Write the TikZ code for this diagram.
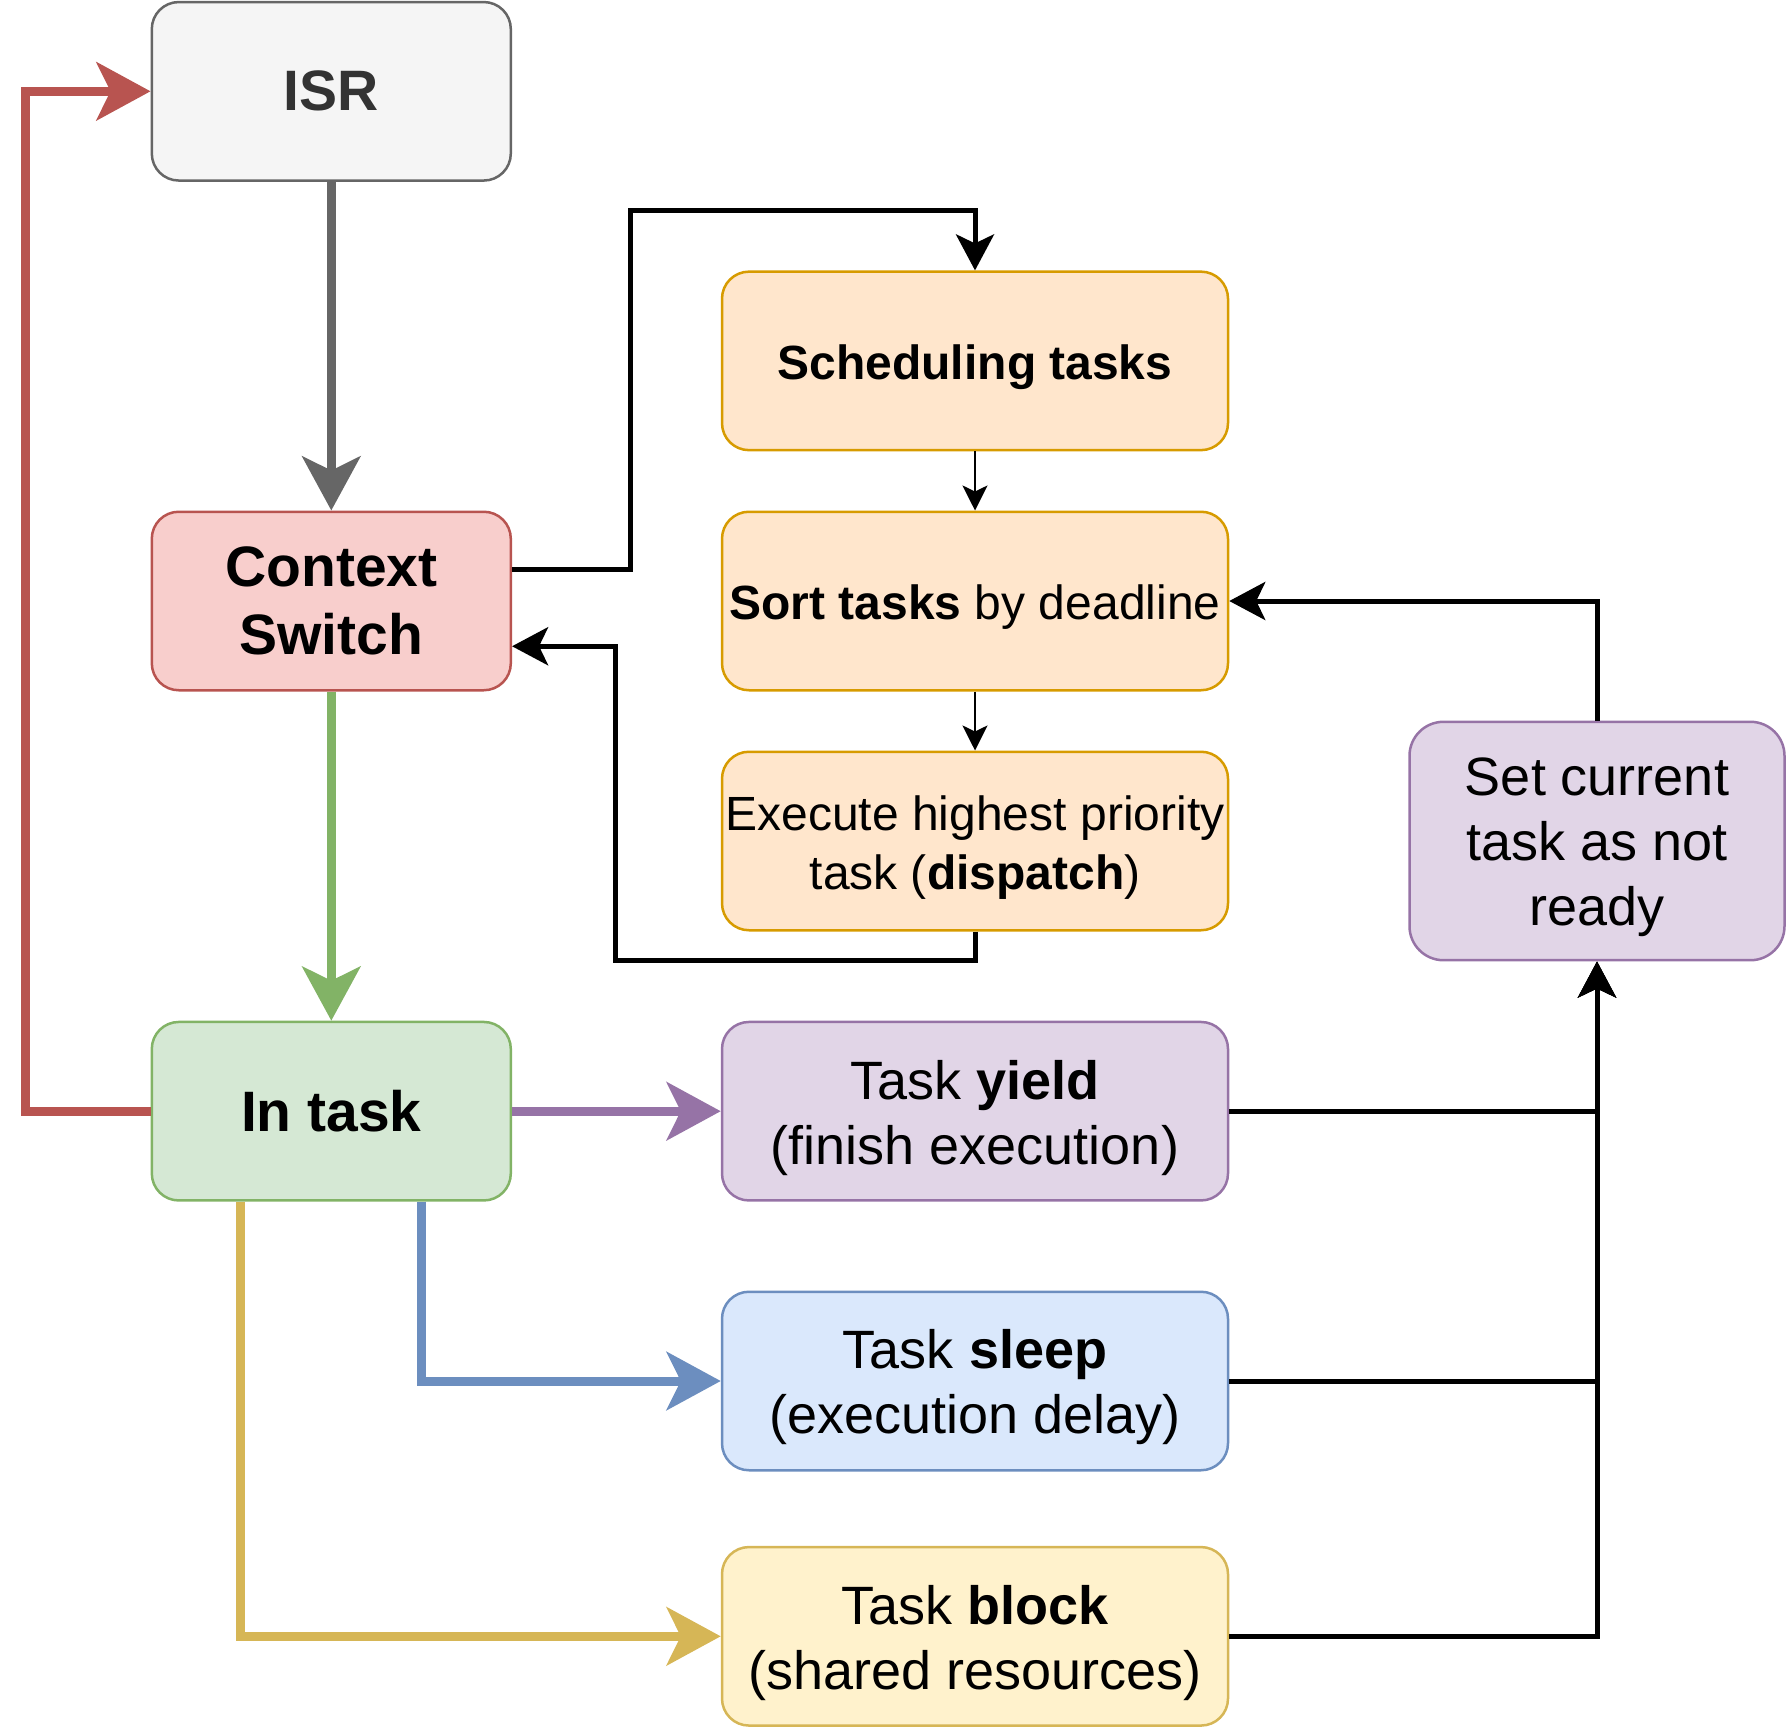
\documentclass[tikz,border=0pt]{standalone}
\usepackage{fontspec}
\setmainfont{Liberation Sans}
\usetikzlibrary{arrows.meta,calc}
\definecolor{isrfill}{HTML}{F5F5F5}
\definecolor{isrdraw}{HTML}{666666}
\definecolor{isrtext}{HTML}{333333}
\definecolor{redfill}{HTML}{F8CECC}
\definecolor{reddraw}{HTML}{B85450}
\definecolor{greenfill}{HTML}{D5E8D4}
\definecolor{greendraw}{HTML}{82B366}
\definecolor{orangefill}{HTML}{FFE6CC}
\definecolor{orangedraw}{HTML}{D79B00}
\definecolor{purplefill}{HTML}{E1D5E7}
\definecolor{purpledraw}{HTML}{9673A6}
\definecolor{bluefill}{HTML}{DAE8FC}
\definecolor{bluedraw}{HTML}{6C8EBF}
\definecolor{yellowfill}{HTML}{FFF2CC}
\definecolor{yellowdraw}{HTML}{D6B656}
\tikzset{
  box/.style={rectangle, rounded corners=27pt, line width=2.5pt, inner sep=0pt, align=center},
  smallbox/.style={box, minimum width=359pt, minimum height=178.5pt},
  widebox/.style={box, minimum width=506pt, minimum height=178.5pt},
  boxtext/.style={inner sep=0pt, align=center},
  headfont/.style={font=\fontsize{57}{68}\selectfont\bfseries},
  midfont/.style={boxtext, font=\fontsize{48}{59}\selectfont},
  bigfont/.style={boxtext, font=\fontsize{54}{65}\selectfont},
  thickarrow/.style={line width=9pt, -{Stealth[length=54pt, width=58pt, inset=14pt]}},
  blackarrow/.style={line width=5pt, black, -{Stealth[length=36pt, width=38pt, inset=9pt]}},
  thinarrow/.style={line width=2.5pt, black, -{Stealth[length=25pt, width=25pt, inset=6pt]}}
}
\begin{document}
\begin{tikzpicture}[x=1pt,y=-1pt]
\useasboundingbox (0,0) rectangle (1788,1728);
% boxes
\node[smallbox, headfont, fill=isrfill, draw=isrdraw, text=isrtext] (isr) at (331.3,91.3) {ISR};
\node[smallbox, headfont, fill=redfill, draw=reddraw] (cs) at (331.3,601) {Context\\Switch};
\node[smallbox, headfont, fill=greenfill, draw=greendraw] (intask) at (331.3,1111.2) {In task};
\node[widebox, fill=orangefill, draw=orangedraw] (sched) at (975,360.9) {};
\node[widebox, fill=orangefill, draw=orangedraw] (sort) at (975,601) {};
\node[widebox, fill=orangefill, draw=orangedraw] (exec) at (975,841) {};
\node[widebox, fill=purplefill, draw=purpledraw] (yield) at (975,1111.2) {};
\node[widebox, fill=bluefill, draw=bluedraw] (sleep) at (975,1381) {};
\node[widebox, fill=yellowfill, draw=yellowdraw] (block) at (975,1636.3) {};
\node[box, rounded corners=34pt, minimum width=375pt, minimum height=238.4pt, fill=purplefill, draw=purpledraw] (set) at (1597,841) {};
% box texts
\node[midfont] (schedtext) at ($(sched.center)+(0,6.5)$) {\textbf{Scheduling tasks}};
\node[midfont] (sorttext) at ($(sort.center)+(0,6.5)$) {\textbf{Sort tasks} by deadline};
\node[midfont] (exectext) at ($(exec.center)+(0,6.5)$) {Execute highest priority\\task (\textbf{dispatch})};
\node[bigfont] (yieldtext) at ($(yield.center)+(0,6.5)$) {Task \textbf{yield}\\(finish execution)};
\node[bigfont] (sleeptext) at ($(sleep.center)+(0,6.5)$) {Task \textbf{sleep}\\(execution delay)};
\node[bigfont] (blocktext) at ($(block.center)+(0,6.5)$) {Task \textbf{block}\\(shared resources)};
\node[bigfont] (settext) at ($(set.center)+(0,6.5)$) {Set current\\task as not\\ready};
% route coordinates
\coordinate (redx) at (25,0);
\coordinate (r1) at (630.6,211);
\coordinate (r2) at (615.8,960);
% colored connectors
\draw[thickarrow, draw=isrdraw] (isr.south) -- (cs.north);
\draw[thickarrow, draw=greendraw] (cs.south) -- (intask.north);
\draw[thickarrow, draw=reddraw] (intask.west) -- (intask.west -| redx) |- (isr.west);
\draw[thickarrow, draw=purpledraw] (intask.east) -- (yield.west);
\draw[thickarrow, draw=bluedraw] ($(intask.south west)!0.75!(intask.south east)$) |- (sleep.west);
\draw[thickarrow, draw=yellowdraw] ($(intask.south west)!0.25!(intask.south east)$) |- (block.west);
% black connectors
\draw[blackarrow] ($(cs.north east)!0.325!(cs.south east)$) -| (r1) -| (sched.north);
\draw[thinarrow] (sched.south) -- (sort.north);
\draw[thinarrow] (sort.south) -- (exec.north);
\draw[blackarrow] (exec.south) |- (r2) |- ($(cs.north east)!0.75!(cs.south east)$);
\draw[blackarrow] (set.north) |- (sort.east);
\draw[blackarrow] (yield.east) -| (set.south);
\draw[blackarrow] (sleep.east) -| (set.south);
\draw[blackarrow] (block.east) -| (set.south);
\end{tikzpicture}
\end{document}
